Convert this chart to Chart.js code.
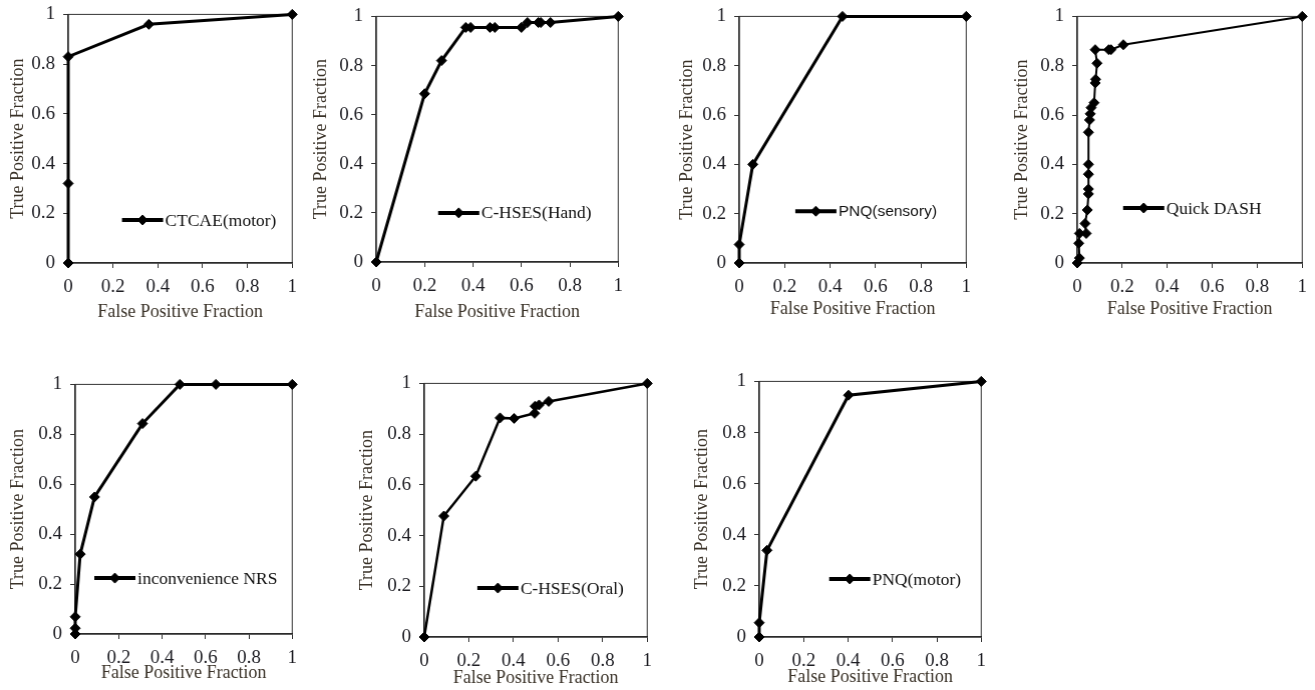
<!DOCTYPE html>
<html>
<head>
<meta charset="utf-8">
<script src="https://cdn.jsdelivr.net/npm/chart.js@4.4.1/dist/chart.umd.min.js"></script>
<style>
body { margin: 0; background: #fff; width: 1315px; height: 690px; position: relative; overflow: hidden; }
.box { position: absolute; }
</style>
</head>
<body>
<div class="box" id="b1"><canvas id="c1"></canvas></div>
<div class="box" id="b2"><canvas id="c2"></canvas></div>
<div class="box" id="b3"><canvas id="c3"></canvas></div>
<div class="box" id="b4"><canvas id="c4"></canvas></div>
<div class="box" id="b5"><canvas id="c5"></canvas></div>
<div class="box" id="b6"><canvas id="c6"></canvas></div>
<div class="box" id="b7"><canvas id="c7"></canvas></div>
<script>
// axis ticks shared by all panels
const tickValues = [0, 0.2, 0.4, 0.6, 0.8, 1]
const tickLabels = ['0', '0.2', '0.4', '0.6', '0.8', '1']

// ROC points (false positive fraction, true positive fraction)
const ctcaeX = [0, 0, 0, 0.36, 1]
const ctcaeY = [0, 0.32, 0.83, 0.96, 1]

const handX = [0, 0.2, 0.27, 0.37, 0.39, 0.47, 0.49, 0.6, 0.625, 0.67, 0.68, 0.72, 1]
const handY = [0, 0.685, 0.82, 0.955, 0.955, 0.955, 0.955, 0.955, 0.975, 0.975, 0.975, 0.975, 1]

const sensoryX = [0, 0, 0.06, 0.455, 1]
const sensoryY = [0, 0.075, 0.4, 1, 1]

const dashX = [0, 0.01, 0.007, 0.01, 0.04, 0.035, 0.045, 0.05, 0.05, 0.05, 0.05, 0.05, 0.055, 0.058, 0.062, 0.075, 0.08, 0.082, 0.088, 0.08, 0.14, 0.15, 0.205, 1]
const dashY = [0, 0.02, 0.08, 0.12, 0.12, 0.16, 0.215, 0.28, 0.3, 0.36, 0.4, 0.53, 0.58, 0.605, 0.63, 0.65, 0.73, 0.745, 0.81, 0.865, 0.865, 0.865, 0.885, 1]

const nrsX = [0, 0, 0, 0.023, 0.089, 0.31, 0.482, 0.648, 1]
const nrsY = [0, 0.023, 0.069, 0.32, 0.549, 0.843, 1, 1, 1]

const oralX = [0, 0.088, 0.231, 0.34, 0.403, 0.495, 0.497, 0.515, 0.558, 1]
const oralY = [0, 0.477, 0.634, 0.864, 0.862, 0.882, 0.91, 0.915, 0.929, 1]

const motorX = [0, 0, 0.035, 0.402, 1]
const motorY = [0, 0.056, 0.339, 0.946, 1]

const serif = 'Liberation Serif'

const frame = {
    id: 'frame',
    beforeDatasetsDraw(chart) {
        const a = chart.chartArea
        const ctx = chart.ctx
        ctx.save()
        ctx.strokeStyle = '#333'
        ctx.lineWidth = 1
        ctx.strokeRect(a.left, a.top, a.right - a.left, a.bottom - a.top)
        ctx.restore()
    }
}

// legend entry drawn inside the plot, anchored in axis units
const insideLegend = {
    id: 'insideLegend',
    afterDatasetsDraw(chart, args, o) {
        const ctx = chart.ctx
        const x0 = chart.scales.x.getPixelForValue(o.x)
        const y0 = chart.scales.y.getPixelForValue(o.y)
        ctx.save()
        ctx.strokeStyle = '#000'
        ctx.fillStyle = '#000'
        ctx.lineWidth = 4
        ctx.beginPath()
        ctx.moveTo(x0, y0)
        ctx.lineTo(x0 + 41, y0)
        ctx.stroke()
        ctx.lineWidth = 1
        Chart.helpers.drawPoint(ctx, { pointStyle: 'rectRot', radius: 5, borderWidth: 1 }, x0 + 20.5, y0)
        ctx.font = o.font
        ctx.fillStyle = '#111'
        ctx.textBaseline = 'middle'
        ctx.fillText(chart.data.datasets[0].label, x0 + 43, y0 + 1)
        ctx.restore()
    }
}

function axis(title, fixSize) {
    return {
        type: 'linear',
        min: 0,
        max: 1,
        afterBuildTicks: s => { s.ticks = tickValues.map(v => ({ value: v })) },
        afterFit: fixSize,
        grid: { drawOnChartArea: false, drawTicks: true, tickLength: 5, color: '#333' },
        border: { display: true, color: '#222', width: 1.5 },
        ticks: {
            color: '#1c1c22',
            padding: 8,
            maxRotation: 0,
            font: { family: serif, size: 19 },
            callback: (v, i) => tickLabels[i]
        },
        title: {
            display: true,
            text: title,
            color: '#3a3228',
            padding: 0,
            font: { family: serif, size: 18 }
        }
    }
}

function makeChart(canvas, xs, ys, name, legendAt, lineWidth, legendFont, xHeight, yWidth) {
    const points = xs.map((x, i) => ({ x: x, y: ys[i] }))
    return new Chart(canvas, {
        type: 'scatter',
        data: {
            datasets: [{
                label: name,
                data: points,
                showLine: true,
                clip: false,
                borderColor: '#000',
                backgroundColor: '#000',
                borderWidth: lineWidth,
                pointStyle: 'rectRot',
                pointRadius: 5,
                pointHoverRadius: 5,
                pointBorderWidth: 1
            }]
        },
        options: {
            animation: false,
            responsive: false,
            maintainAspectRatio: false,
            layout: { padding: { top: 12, right: 12, left: 0, bottom: 0 } },
            plugins: {
                legend: { display: false },
                tooltip: { enabled: false },
                insideLegend: { x: legendAt[0], y: legendAt[1], font: legendFont || '17.5px "Liberation Serif"' }
            },
            scales: {
                x: axis('False Positive Fraction', s => { s.height = xHeight }),
                y: axis('True Positive Fraction', s => { s.width = yWidth })
            }
        },
        plugins: [frame, insideLegend]
    })
}

function buildRoc(id, xs, ys, name, place, legendAt, lineWidth, legendFont) {
    const [L, T, R, B] = place.plot
    const left = place.yTitle - 11
    const bottom = place.xTitle + 11
    const box = document.getElementById('b' + id)
    const canvas = document.getElementById('c' + id)

    // first pass to measure the margins Chart.js keeps around the plot
    let w = R + 12 - left, h = bottom - (T - 12)
    canvas.width = w; canvas.height = h
    const probe = makeChart(canvas, xs, ys, name, legendAt, lineWidth, legendFont, bottom - B, L - left)
    const a = probe.chartArea
    const rightMargin = w - a.right
    const topMargin = a.top
    probe.destroy()

    // final pass with the box set so the plot lands on the panel frame
    const top = T - topMargin
    w = R + rightMargin - left
    h = bottom - top
    box.style.left = left + 'px'
    box.style.top = top + 'px'
    canvas.width = w; canvas.height = h
    canvas.style.width = w + 'px'; canvas.style.height = h + 'px'
    makeChart(canvas, xs, ys, name, legendAt, lineWidth, legendFont, bottom - B, L - left)
}

buildRoc(1, ctcaeX, ctcaeY, 'CTCAE(motor)', { plot: [68, 14, 292, 263], yTitle: 18, xTitle: 312 }, [0.24, 0.173], 3)
buildRoc(2, handX, handY, 'C-HSES(Hand)', { plot: [376, 16, 618, 262], yTitle: 321, xTitle: 312 }, [0.256, 0.2], 3)
buildRoc(3, sensoryX, sensoryY, 'PNQ(sensory)', { plot: [739, 16, 966, 263], yTitle: 687, xTitle: 309 }, [0.247, 0.21], 3, '15.5px "Liberation Sans"')
buildRoc(4, dashX, dashY, 'Quick DASH', { plot: [1077, 16, 1302, 263], yTitle: 1022, xTitle: 309 }, [0.204, 0.223], 2)
buildRoc(5, nrsX, nrsY, 'inconvenience NRS', { plot: [75, 384, 292, 634], yTitle: 18, xTitle: 673 }, [0.088, 0.224], 3)
buildRoc(6, oralX, oralY, 'C-HSES(Oral)', { plot: [424, 383, 647, 637], yTitle: 367, xTitle: 678 }, [0.238, 0.193], 2.5)
buildRoc(7, motorX, motorY, 'PNQ(motor)', { plot: [759, 381, 981, 637], yTitle: 702, xTitle: 677 }, [0.315, 0.227], 3)
</script>
</body>
</html>
